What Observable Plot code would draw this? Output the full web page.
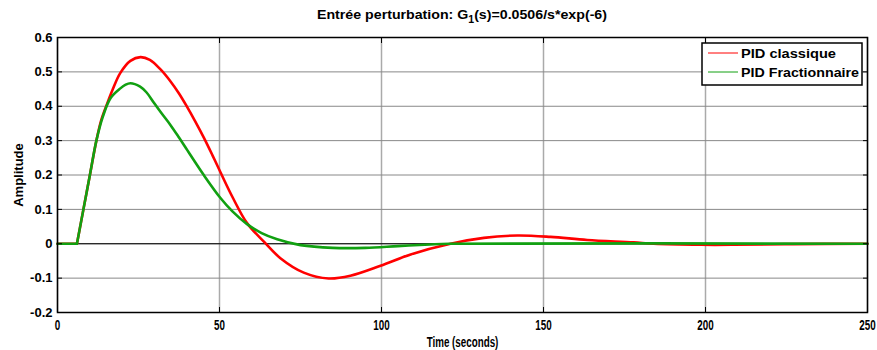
<!DOCTYPE html>
<html><head><meta charset="utf-8">
<script src="https://cdn.jsdelivr.net/npm/d3@7"></script>
<script src="https://cdn.jsdelivr.net/npm/@observablehq/plot@0.6"></script>
<style>
body{margin:0;background:#fff}
#chart{width:877px;height:350px}
svg text{font-family:"Liberation Sans",Arial,sans-serif;font-weight:bold}
</style>
</head><body><div id="chart"></div>
<script>
// PID classique (red)
const tClassique = [0,6,8,10,12,13.5,15.3,17,19.4,22.5,25.6,28.5,31.8,34.9,37.5,40,42.5,45.2,47.8,50.3,54,58.5,63.7,68.8,76,83.7,90.4,99.7,109,121.3,131.6,141.9,152.2,163.5,177.8,184,198.5,208.6,227,250];
const yClassique = [0,0,0.1,0.2,0.3,0.36,0.407,0.448,0.497,0.532,0.543,0.535,0.507,0.472,0.437,0.398,0.356,0.308,0.258,0.208,0.136,0.06,0.006,-0.042,-0.084,-0.101,-0.093,-0.064,-0.031,0,0.017,0.024,0.02,0.011,0.004,0,-0.003,-0.003,-0.001,0];
// PID Fractionnaire (green)
const tFraction = [0,6,8,10,12,14,16.4,19.4,20.9,22.5,25.5,27.5,29.7,32,34.9,37.5,40,42.5,45.2,50.3,54,58.5,63,67.8,75,85,95,105,115,121,250];
const yFraction = [0,0,0.1,0.2,0.3,0.37,0.424,0.452,0.462,0.467,0.457,0.44,0.411,0.381,0.345,0.309,0.273,0.237,0.199,0.133,0.094,0.057,0.031,0.013,-0.004,-0.012,-0.012,-0.007,-0.002,0,0];

const seriesNames = ["PID classique","PID Fractionnaire"];
const seriesColors = ["#ff0000","#11a011"];
const xTicks = [0,50,100,150,200,250];
const yTicks = [-0.2,-0.1,0,0.1,0.2,0.3,0.4,0.5,0.6];
const titleMain = "Entrée perturbation: G";
const titleSub = "1";
const titleRest = "(s)=0.0506/s*exp(-6)";
const xLabel = "Time (seconds)";
const yLabel = "Amplitude";
const delayTime = 6; // dead time: flat part before response

// split each series in flat part (before delay) and response part
function segments(ts, ys, name) {
  return ts.map((t,i)=>({t, y:ys[i], seg: t <= delayTime ? name+"a" : name+"b"}))
    .concat(ts.includes(delayTime) ? [{t:delayTime, y:ys[ts.indexOf(delayTime)], seg:name+"b"}] : [])
    .sort((a,b)=>a.seg.localeCompare(b.seg) || a.t-b.t);
}
const red = segments(tClassique, yClassique, "r");
const green = segments(tFraction, yFraction, "g");
const fmt = d => d===0 ? "0" : String(+d.toFixed(1));

const plot = Plot.plot({
  width: 877, height: 350,
  marginLeft: 57, marginRight: 10, marginTop: 37, marginBottom: 38,
  x: {domain:[0,250]},
  y: {domain:[-0.2,0.6]},
  style: {fontFamily:"Liberation Sans, Arial, sans-serif", fontSize:"13px", fontWeight:"bold", color:"black"},
  marks: [
    Plot.gridX(xTicks, {stroke:"#aaa", strokeOpacity:1, strokeWidth:1.5}),
    Plot.gridY(yTicks, {stroke:"#888", strokeOpacity:1, strokeWidth:1}),
    Plot.ruleY([0], {stroke:"black", strokeWidth:1}),
    Plot.line(red, {x:"t", y:"y", z:"seg", stroke:seriesColors[0], strokeWidth:2.6, curve:"catmull-rom"}),
    Plot.line(green, {x:"t", y:"y", z:"seg", stroke:seriesColors[1], strokeWidth:2.6, curve:"catmull-rom"}),
    Plot.axisX(xTicks, {anchor:"bottom", tickSize:-5, tickPadding:13, tickFormat:d=>String(d), fontSize:14, label:xLabel, labelAnchor:"center", labelArrow:"none", labelOffset:34}),
    Plot.axisX(xTicks, {anchor:"top", tickSize:-5, tickFormat:()=>"", label:null}),
    Plot.axisY(yTicks, {anchor:"left", tickSize:-5, tickPadding:10, tickFormat:fmt, label:yLabel, labelAnchor:"center", labelArrow:"none", labelOffset:44}),
    Plot.axisY(yTicks, {anchor:"right", tickSize:-5, tickFormat:()=>"", label:null}),
    Plot.frame({stroke:"black", strokeWidth:1.5})
  ]
});
document.getElementById("chart").appendChild(plot);

const svg = d3.select(plot);
// condense bottom axis texts (narrow look as in reference)
svg.selectAll("text").each(function(){
  const el = this;
  const txt = el.textContent;
  if (xTicks.map(String).includes(txt) || txt === xLabel) {
    const r = el.getBoundingClientRect();
    if (r.top > 310) {
      if (txt === xLabel) el.style.fontSize = "14px";
      const w = el.getComputedTextLength();
      el.setAttribute("textLength", (w*0.7).toFixed(1));
      el.setAttribute("lengthAdjust","spacingAndGlyphs");
    }
  }
});
// title
const title = svg.append("text").attr("x", 462).attr("y", 19).attr("text-anchor","middle")
  .style("font-size","13.5px").style("font-weight","bold").attr("fill","black")
  .attr("textLength",290).attr("lengthAdjust","spacingAndGlyphs");
title.append("tspan").text(titleMain);
title.append("tspan").attr("dy",4).style("font-size","10px").text(titleSub);
title.append("tspan").attr("dy",-4).text(titleRest);

// legend
const lg = svg.append("g").attr("text-anchor","start");
lg.append("rect").attr("x",702).attr("y",43).attr("width",160).attr("height",42)
  .attr("fill","white").attr("stroke","black").attr("stroke-width",1.5);
const legendLengths = [95,118];
seriesNames.forEach((name,i)=>{
  const yy = 53 + i*19;
  lg.append("line").attr("x1",708).attr("x2",738).attr("y1",yy).attr("y2",yy)
    .attr("stroke",seriesColors[i]).attr("stroke-width",1);
  lg.append("text").attr("x",741).attr("y",yy+4.5).attr("text-anchor","start")
    .style("font-size","13px").style("font-weight","bold")
    .attr("textLength",legendLengths[i]).attr("lengthAdjust","spacingAndGlyphs")
    .attr("fill","black").text(name);
});
</script>
</body></html>
